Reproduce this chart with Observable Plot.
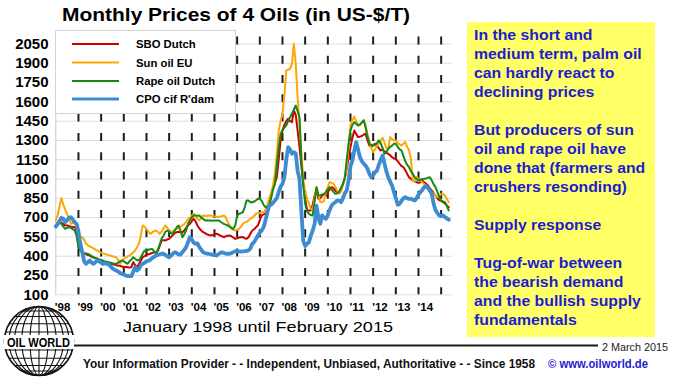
<!DOCTYPE html>
<html>
<head>
<meta charset="utf-8">
<script src="https://cdn.jsdelivr.net/npm/d3@7"></script>
<script src="https://cdn.jsdelivr.net/npm/@observablehq/plot@0.6"></script>
<style>
  html, body { margin: 0; padding: 0; background: #fff; }
  #wrap { position: relative; width: 676px; height: 378px; overflow: hidden; background: #fff; }
  #chart, #ann { position: absolute; left: 0; top: 0; }
  text { font-family: "Liberation Sans", Arial, sans-serif; }
</style>
</head>
<body>
<div id="wrap">
  <div id="chart"></div>
  <svg id="ann" width="676" height="378"></svg>
</div>
<script>
// ---------------- DATA (monthly, starting January 1998, US-$/T) ----------------
const startYear = 1998;
const seriesNames = ["SBO Dutch", "Sun oil EU", "Rape oil Dutch", "CPO cif R'dam"];
const seriesColors = ["#cc0000", "#ffa600", "#138a13", "#3d8bd1"];
const seriesWidths = [2, 2, 2, 3.8];

const sbo = [
  639, 650, 665, 660, 650, 640, 639, 635, 630, 628, 626, 600,
  470, 450, 431, 420, 415, 410, 405, 395, 390, 385, 380, 370,
  362, 354, 350, 345, 342, 341, 338, 335, 330, 328, 325, 320,
  315, 318, 315, 312, 315, 354, 330, 315, 340, 365, 392, 400,
  410, 415, 419, 425, 430, 431, 440, 480, 522, 525, 522, 530,
  535, 550, 565, 580, 587, 590, 585, 587, 600, 620, 640, 652,
  672, 691, 670, 639, 615, 600, 587, 580, 570, 565, 561, 565,
  570, 574, 570, 560, 555, 548, 555, 560, 561, 555, 545, 535,
  540, 545, 548, 550, 540, 535, 548, 575, 600, 610, 626, 640,
  680, 717, 725, 730, 760, 810, 885, 930, 970, 1014, 1150, 1300,
  1378, 1420, 1450, 1469, 1450, 1442, 1533, 1500, 1378, 1250, 1100, 963,
  850, 756, 756, 756, 800, 870, 911, 846, 850, 870, 885, 870,
  900, 920, 937, 930, 910, 900, 898, 930, 960, 1002, 1080, 1160,
  1248, 1320, 1378, 1350, 1326, 1330, 1335, 1345, 1352, 1300, 1261, 1250,
  1265, 1274, 1260, 1240, 1222, 1230, 1215, 1205, 1196, 1185, 1170, 1160,
  1157, 1140, 1119, 1100, 1092, 1070, 1040, 1014, 1000, 990, 980, 975,
  970, 975, 989, 975, 963, 950, 930, 911, 890, 870, 850, 835,
  830, 820, 810, 795, 781
];
const sun = [
  678, 720, 790, 851, 800, 760, 730, 690, 652, 660, 665, 620,
  548, 548, 548, 530, 497, 485, 475, 470, 460, 452, 444, 435,
  428, 422, 419, 412, 408, 405, 400, 395, 392, 370, 341, 360,
  380, 390, 400, 405, 415, 430, 444, 470, 497, 560, 639, 630,
  613, 590, 574, 585, 595, 600, 590, 574, 590, 615, 639, 620,
  600, 587, 595, 605, 613, 620, 630, 639, 650, 665, 691, 700,
  715, 730, 710, 690, 678, 700, 717, 715, 712, 717, 717, 712,
  710, 706, 704, 708, 712, 717, 700, 665, 640, 613, 605, 600,
  605, 613, 630, 650, 665, 665, 680, 691, 700, 715, 730, 735,
  735, 742, 742, 760, 800, 850, 900, 950, 1050, 1196, 1378, 1450,
  1510, 1650, 1844, 1850, 1857, 1896, 2052, 1900, 1637, 1430, 1200, 1000,
  900, 850, 808, 770, 756, 850, 937, 880, 820, 820, 830, 900,
  940, 976, 970, 963, 940, 910, 885, 900, 960, 1010, 1092, 1250,
  1417, 1460, 1486, 1450, 1420, 1417, 1440, 1461, 1420, 1350, 1287, 1240,
  1209, 1230, 1260, 1274, 1300, 1321, 1280, 1240, 1235, 1326, 1310, 1300,
  1300, 1280, 1270, 1261, 1275, 1287, 1250, 1222, 1157, 989, 980, 1014,
  1000, 989, 976, 960, 950, 930, 911, 895, 885, 870, 860, 870,
  885, 885, 870, 845, 820
];
const rape = [
  639, 655, 672, 650, 630, 613, 620, 626, 620, 610, 600, 560,
  470, 445, 431, 425, 422, 419, 410, 400, 392, 385, 380, 375,
  372, 365, 360, 357, 354, 350, 345, 342, 341, 350, 360, 367,
  360, 350, 341, 360, 375, 392, 380, 370, 367, 390, 420, 444,
  444, 450, 455, 457, 440, 419, 450, 490, 535, 560, 590, 600,
  590, 580, 574, 600, 625, 639, 600, 548, 570, 600, 652, 680,
  700, 717, 717, 715, 717, 700, 690, 678, 680, 678, 678, 676,
  678, 678, 678, 670, 660, 652, 645, 640, 630, 620, 613, 640,
  717, 730, 735, 742, 780, 833, 833, 820, 820, 825, 835, 846,
  846, 830, 800, 781, 785, 794, 850, 920, 963, 1100, 1250, 1352,
  1380, 1400, 1417, 1450, 1480, 1507, 1540, 1572, 1530, 1481, 1144, 950,
  808, 750, 730, 720, 717, 820, 937, 872, 875, 880, 885, 900,
  920, 937, 920, 900, 885, 890, 900, 930, 960, 1014, 1150, 1280,
  1378, 1420, 1442, 1430, 1417, 1425, 1440, 1455, 1400, 1330, 1274, 1265,
  1261, 1265, 1280, 1300, 1280, 1240, 1196, 1210, 1235, 1250, 1260, 1274,
  1274, 1250, 1230, 1222, 1180, 1140, 1110, 1092, 1060, 1040, 1014, 1000,
  989, 995, 1000, 1002, 1005, 1010, 1014, 990, 960, 937, 900, 860,
  833, 826, 820, 790, 756
];
const cpo = [
  631, 650, 675, 699, 690, 665, 680, 700, 703, 685, 665, 652,
  590, 497, 430, 360, 341, 355, 367, 350, 341, 355, 367, 360,
  350, 341, 345, 340, 336, 320, 305, 295, 289, 280, 270, 263,
  258, 250, 248, 245, 245, 280, 315, 289, 300, 330, 341, 350,
  360, 365, 372, 385, 395, 405, 410, 415, 419, 419, 410, 400,
  392, 405, 420, 431, 425, 413, 413, 430, 450, 470, 510, 548,
  530, 505, 496, 500, 470, 450, 431, 425, 420, 419, 415, 410,
  410, 405, 415, 425, 431, 425, 420, 419, 419, 425, 432, 439,
  440, 438, 435, 437, 439, 442, 445, 460, 497, 510, 535, 561,
  585, 600, 626, 680, 740, 794, 800, 815, 833, 850, 900, 940,
  963, 1014, 1150, 1248, 1230, 1196, 1209, 1200, 1066, 1000, 750, 520,
  480, 497, 509, 560, 600, 650, 794, 700, 652, 717, 700, 691,
  720, 760, 794, 810, 820, 833, 833, 820, 850, 890, 911, 989,
  1100, 1144, 1220, 1287, 1230, 1170, 1140, 1119, 1105, 1080, 1040, 1014,
  1030, 1053, 1066, 1110, 1150, 1183, 1120, 1060, 1014, 980, 950, 900,
  850, 800, 808, 830, 850, 859, 850, 846, 846, 840, 833, 850,
  880, 898, 915, 937, 945, 930, 911, 885, 808, 760, 735, 717,
  712, 717, 703, 695, 683
];
const seriesValues = [sbo, sun, rape, cpo];

const yTicks = [100, 250, 400, 550, 700, 850, 1000, 1150, 1300, 1450, 1600, 1750, 1900, 2050];
const labelYears = [1998, 1999, 2000, 2001, 2002, 2003, 2004, 2005, 2006, 2007, 2008, 2009, 2010, 2011, 2012, 2013, 2014];
const yearLabels = ["'98", "'99", "'00", "'01", "'02", "'03", "'04", "'05", "'06", "'07", "'08", "'09", "'10", "'11", "'12", "'13", "'14"];
const yearLines = [1999, 2000, 2001, 2002, 2003, 2004, 2005, 2006, 2007, 2008, 2009, 2010, 2011, 2012, 2013, 2014, 2015];

const titleText = "Monthly Prices of 4 Oils (in US-$/T)";
const subtitleText = "January 1998 until February 2015";
const boxLines = [
  "In the short and", "medium term, palm oil", "can hardly react to", "declining prices", "",
  "But producers of sun", "oil and rape oil have", "done that (farmers and", "crushers resonding)", "",
  "Supply response", "",
  "Tug-of-war between", "the bearish demand", "and the bullish supply", "fundamentals"
];
const footerText = "Your Information Provider - - Independent, Unbiased, Authoritative - - Since 1958";
const footerUrl = "\u00A9 www.oilworld.de";
const dateText = "2 March 2015";
const logoText = "OIL WORLD";

// ---------------- BUILD ----------------
const tables = seriesValues.map((vals, s) =>
  vals.map((v, i) => ({ series: seriesNames[s], t: startYear + i / 12, v }))
);
const xEnd = 2015.5;

const lineMarks = tables.map((rows, s) =>
  Plot.line(rows, { x: "t", y: "v", stroke: seriesColors[s], strokeWidth: seriesWidths[s], strokeLinejoin: "round" })
);

const chart = Plot.plot({
  width: 676,
  height: 378,
  marginLeft: 55,
  marginRight: 224,
  marginTop: 30,
  marginBottom: 84,
  x: { domain: [startYear, xEnd], range: [55.3, 452], axis: null },
  y: { domain: [100, 2050], range: [294.3, 43.5], axis: null },
  style: { background: "transparent", color: "#000", fontFamily: "Liberation Sans, Arial, sans-serif" },
  marks: [
    Plot.ruleY(yTicks, { x1: startYear, x2: xEnd, stroke: "#dedede", strokeWidth: 1 }),
    Plot.ruleX([startYear], { y1: 100, y2: 2110, stroke: "#c8c8c8", strokeWidth: 1 }),
    Plot.ruleX(yearLines, { y1: 2105, y2: 100, stroke: "#1e1e1e", strokeWidth: 2, strokeDasharray: "8,11.29" }),
    ...lineMarks,
    Plot.axisY(yTicks, { anchor: "left", label: null, tickFormat: d => String(d), tickSize: 0, tickPadding: 7, fontSize: 15, fontWeight: "bold", fontFamily: "DejaVu Sans", fill: "#000" }),
    Plot.text(labelYears, { x: d => d, y: 100, text: (d, i) => yearLabels[i], dx: -1, dy: 15.8, textAnchor: "start", lineAnchor: "bottom", fontSize: 11.5, fontWeight: "bold", fill: "#000" })
  ]
});
document.getElementById("chart").appendChild(chart);

// ---------------- ANNOTATIONS (title, legend, box, footer, logo) ----------------
const ann = d3.select("#ann");

// title
ann.append("text").attr("x", 62).attr("y", 20.5).attr("font-size", 18.5).attr("font-weight", "bold")
  .attr("textLength", 348).attr("lengthAdjust", "spacingAndGlyphs").attr("fill", "#000").text(titleText);

// legend
ann.append("rect").attr("x", 55.5).attr("y", 30.5).attr("width", 180).attr("height", 83)
  .attr("fill", "#fff").attr("stroke", "#d4d4d4");
const legY = [44, 62.5, 81, 99];
seriesNames.forEach((name, i) => {
  ann.append("line").attr("x1", 72).attr("x2", 119).attr("y1", legY[i]).attr("y2", legY[i])
    .attr("stroke", seriesColors[i]).attr("stroke-width", i === 3 ? 3.2 : 2.2);
  ann.append("text").attr("x", 136).attr("y", legY[i] + 4).attr("font-size", 11.3).attr("font-weight", "bold")
    .attr("fill", "#000").text(name);
});

// subtitle
ann.append("text").attr("x", 123).attr("y", 331.5).attr("font-size", 15.5)
  .attr("textLength", 270).attr("lengthAdjust", "spacingAndGlyphs").attr("fill", "#000").text(subtitleText);

// yellow box
ann.append("rect").attr("x", 467).attr("y", 22).attr("width", 188).attr("height", 315).attr("fill", "#ffff66");
const g = ann.append("g").attr("transform", "translate(474,0) scale(1.13,1)");
boxLines.forEach((s, i) => {
  if (!s) return;
  g.append("text").attr("x", 0).attr("y", 40 + i * 19).attr("font-size", 14).attr("font-weight", "bold")
    .attr("fill", "#1c1cd2").text(s);
});

// footer
ann.append("line").attr("x1", 74).attr("x2", 598).attr("y1", 345.5).attr("y2", 345.5)
  .attr("stroke", "#1a1a1a").attr("stroke-width", 2);
ann.append("text").attr("x", 602).attr("y", 351).attr("font-size", 10)
  .attr("textLength", 66).attr("lengthAdjust", "spacingAndGlyphs").attr("fill", "#222").text(dateText);
ann.append("text").attr("x", 83).attr("y", 368).attr("font-size", 12).attr("font-weight", "bold")
  .attr("textLength", 452).attr("lengthAdjust", "spacingAndGlyphs").attr("fill", "#111").text(footerText);
ann.append("text").attr("x", 548).attr("y", 368).attr("font-size", 12).attr("font-weight", "bold")
  .attr("textLength", 100).attr("lengthAdjust", "spacingAndGlyphs").attr("fill", "#1c1cd2").text(footerUrl);

// logo (globe)
const cx = 39, cy = 341, r = 34.5;
const logo = ann.append("g").attr("fill", "none").attr("stroke", "#111").attr("stroke-width", 1.1);
logo.append("circle").attr("cx", cx).attr("cy", cy).attr("r", r).attr("fill", "#fff").attr("stroke-width", 1.6);
[0.26, 0.5, 0.71, 0.87].forEach(k => {
  logo.append("ellipse").attr("cx", cx).attr("cy", cy).attr("rx", r * k).attr("ry", r);
});
logo.append("line").attr("x1", cx).attr("x2", cx).attr("y1", cy - r).attr("y2", cy + r);
[-0.87, -0.71, -0.5, -0.26, 0, 0.26, 0.5, 0.71, 0.87].forEach(s => {
  const yy = cy + r * s, hw = r * Math.sqrt(1 - s * s);
  logo.append("line").attr("x1", cx - hw).attr("x2", cx + hw).attr("y1", yy).attr("y2", yy);
});
ann.append("rect").attr("x", 4).attr("y", 335).attr("width", 70).attr("height", 14).attr("fill", "#fff");
ann.append("text").attr("x", 7).attr("y", 347).attr("font-size", 12).attr("font-weight", "bold")
  .attr("textLength", 63).attr("lengthAdjust", "spacingAndGlyphs").attr("fill", "#000").text(logoText);
</script>
</body>
</html>
